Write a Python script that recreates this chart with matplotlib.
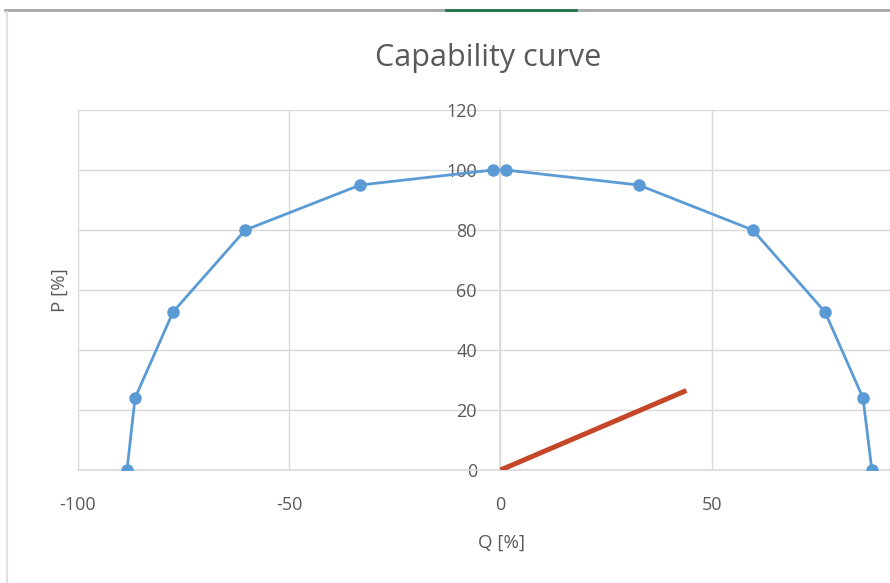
import matplotlib.pyplot as plt
from matplotlib.lines import Line2D

# capability curve (Q, P) in percent
q_curve = [-88.4, -86.5, -77.5, -60.4, -33.2, -1.7, 1.2, 32.7, 59.7, 76.8, 85.8, 87.9]
p_curve = [0, 24, 52.7, 80, 95, 100, 100, 95, 80, 52.7, 24, 0]

# operating line
q_op = [0, 44]
p_op = [0, 26.5]

x_ticks = [-100, -50, 0, 50]
y_ticks = [0, 20, 40, 60, 80, 100, 120]

plt.rcParams['font.family'] = ['Open Sans', 'DejaVu Sans']
plt.rcParams['axes.unicode_minus'] = False
text_col = '#595959'
grid_col = '#d9d9d9'

W, H = 890, 583
fig = plt.figure(figsize=(W / 100, H / 100), dpi=100)
ax = fig.add_axes([78 / W, 1 - 470 / H, (923 - 78) / W, 360 / H])

ax.plot(q_curve, p_curve, color='#5b9bd5', lw=2, marker='o', ms=8, zorder=3)
ax.plot(q_op, p_op, color='#c5472a', lw=3.6, solid_capstyle='butt', zorder=3)

ax.set_xlim(-100, 100)
ax.set_ylim(0, 120)
ax.set_xticks(x_ticks)
ax.set_yticks(y_ticks)
ax.grid(True, color=grid_col, lw=1)
ax.axvline(100, color=grid_col, lw=1)
ax.set_axisbelow(True)

for s in ['top', 'right']:
    ax.spines[s].set_visible(False)
ax.spines['left'].set_position(('data', 0))
ax.spines['left'].set_color(grid_col)
ax.spines['bottom'].set_color(grid_col)
ax.spines['left'].set_linewidth(1.2)
ax.spines['bottom'].set_linewidth(1.2)
ax.tick_params(axis='both', length=0, labelsize=13, labelcolor=text_col)
ax.tick_params(axis='y', pad=17)
ax.tick_params(axis='x', pad=19)

fig.text(488 / W, 1 - 58 / H, 'Capability curve', ha='center', va='center',
         fontsize=22, color=text_col)
fig.text(501 / W, 1 - 543 / H, 'Q [%]', ha='center', va='center',
         fontsize=13.5, color=text_col)
fig.text(60 / W, 1 - 290 / H, 'P [%]', ha='center', va='center',
         rotation=90, fontsize=13.5, color=text_col)

# window frame around the screenshot
fig.add_artist(Line2D([5 / W, 1], [1 - 10 / H] * 2, color='#a6a6a6', lw=2))
fig.add_artist(Line2D([446 / W, 576 / W], [1 - 10 / H] * 2, color='#217346', lw=2))
fig.add_artist(Line2D([7 / W] * 2, [0, 1 - 12 / H], color='#e0e0e0', lw=1.5))

fig.savefig('out.png', dpi=100, facecolor='white')
